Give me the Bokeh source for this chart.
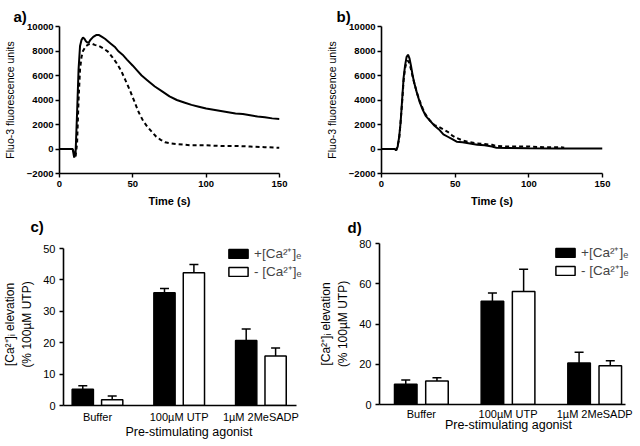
from bokeh.plotting import figure
from bokeh.models import Range1d, Legend, LegendItem, FixedTicker, Whisker, TeeHead, ColumnDataSource
from bokeh.layouts import column, row
from bokeh.embed import file_html
from bokeh.resources import INLINE

FONT = "Liberation Sans"

# ---- panel a: time courses ----
a_solid_t = [0, 5, 9, 10, 11, 12, 13, 14, 15, 16, 17, 18, 19, 20, 21, 23, 25, 27, 29, 31, 33, 35, 38, 40, 43, 46, 50,
             53, 56, 60, 65, 70, 75, 80, 85, 90, 95, 100, 105, 110, 115, 120, 125, 130, 135, 140, 145, 150]
a_solid_v = [0, 0, 0, -700, -200, 3000, 6500, 8400, 8900, 9100, 9000, 8800, 8700, 8700, 8900, 9150, 9300, 9300, 9150,
             9000, 8800, 8600, 8300, 8000, 7700, 7300, 6800, 6400, 6000, 5600, 5100, 4700, 4300, 4000, 3800, 3600,
             3450, 3300, 3200, 3100, 3000, 2900, 2850, 2750, 2650, 2600, 2500, 2450]
a_dash_t = [0, 9, 10, 11, 12, 13, 14, 15, 16, 18, 20, 22, 24, 27, 30, 33, 36, 39, 42, 45, 48, 51, 54, 57, 60, 63, 66,
            69, 72, 76, 80, 90, 100, 110, 120, 130, 140, 150]
a_dash_v = [0, 0, -300, -600, 500, 4000, 6500, 7500, 8000, 8400, 8550, 8600, 8500, 8400, 8200, 7950, 7500, 7000, 6400,
            5600, 4800, 3900, 3000, 2300, 1800, 1400, 1000, 750, 550, 450, 400, 300, 300, 250, 250, 200, 150, 100]

# ---- panel b: time courses ----
b_solid_t = [0, 9, 10, 11, 12, 13, 14, 15, 16, 17, 18, 19, 20, 21, 22, 24, 26, 28, 30, 33, 36, 39, 42, 45, 48, 51, 55,
             60, 65, 70, 75, 78, 85, 100, 120, 150]
b_solid_v = [0, 0, -100, 200, 1000, 2200, 4000, 5800, 6800, 7500, 7700, 7400, 6800, 6100, 5500, 4600, 3800, 3200, 2700,
             2300, 1900, 1600, 1200, 1000, 800, 600, 550, 450, 350, 300, 200, 100, 80, 60, 50, 50]
b_dash_t = [0, 9, 10, 12, 14, 15, 16, 17, 18, 19, 20, 22, 24, 26, 28, 30, 33, 36, 39, 42, 45, 48, 51, 55, 60, 65, 70,
            75, 78, 85, 100, 110, 122, 124]
b_dash_v = [0, 0, -100, 800, 3800, 5600, 6600, 7100, 7200, 7000, 6500, 5500, 4600, 3900, 3300, 2800, 2300, 1950, 1800,
            1600, 1400, 1100, 900, 700, 550, 450, 400, 350, 250, 200, 200, 150, 150, 100]

# ---- panels c and d: bar charts ----
categories = ["Buffer", "100\u00b5M UTP", "1\u00b5M 2MeSADP"]
c_plus = [5.2, 35.9, 20.7]
c_plus_err = [1.1, 1.4, 3.7]
c_minus = [1.8, 42.3, 15.8]
c_minus_err = [1.2, 2.6, 2.5]
d_plus = [10.1, 51.3, 20.6]
d_plus_err = [2.1, 4.1, 5.4]
d_minus = [11.7, 56.2, 19.3]
d_minus_err = [1.6, 11.0, 2.4]
legend_labels = ["+[Ca\u00b2\u207a]\u2091", "- [Ca\u00b2\u207a]\u2091"]


def style_axes(p, tick_size, tick_style):
    for ax in (p.xaxis[0], p.yaxis[0]):
        ax.axis_line_width = 1.6
        ax.major_tick_line_width = 1.4
        ax.major_tick_out = 4
        ax.major_tick_in = 0
        ax.minor_tick_line_color = None
        ax.major_label_text_font = FONT
        ax.major_label_text_font_size = tick_size
        ax.major_label_text_font_style = tick_style
        ax.major_label_text_color = "black"
        ax.axis_label_text_font = FONT
        ax.axis_label_text_color = "black"
    p.xgrid.visible = False
    p.ygrid.visible = False
    p.outline_line_color = None


def panel_title(p, text, offset, standoff):
    p.title.text = text
    p.title.align = "left"
    p.title.vertical_align = "top"
    p.title.offset = offset
    p.title.standoff = standoff
    p.title.text_font = FONT
    p.title.text_font_size = "15px"
    p.title.text_font_style = "bold"
    p.title.text_color = "black"


def trace_fig(letter, st, sv, dt, dv, width, left, right, toff):
    p = figure(width=width, height=210, x_range=Range1d(0, 150), y_range=Range1d(-2000, 10000),
               output_backend="svg", toolbar_location=None,
               min_border_left=left, min_border_right=right, min_border_top=26, min_border_bottom=37)
    style_axes(p, "9.5px", "bold")
    p.xaxis.ticker = FixedTicker(ticks=[0, 50, 100, 150])
    p.yaxis.ticker = FixedTicker(ticks=[-2000, 0, 2000, 4000, 6000, 8000, 10000])
    p.xaxis.axis_label = "Time (s)"
    p.xaxis.axis_label_text_font_style = "bold"
    p.xaxis.axis_label_text_font_size = "11px"
    p.xaxis.axis_label_standoff = 5
    p.xaxis.major_label_standoff = 3
    p.yaxis.axis_label = "Fluo-3 fluorescence units"
    p.yaxis.axis_label_text_font_style = "normal"
    p.yaxis.axis_label_text_font_size = "10.5px"
    p.yaxis.axis_label_standoff = 8
    p.yaxis.major_label_standoff = 2
    p.line(st, sv, line_color="black", line_width=2)
    p.line(dt, dv, line_color="black", line_width=2, line_dash="4 3")
    panel_title(p, letter, toff, 0)
    return p


def bar_fig(letter, plus, plus_err, minus, minus_err, ymax, ystep, yend, width, height, left, right, top, bottom,
            xstart, xaxis_end, xend, toff, tstand, leg_loc, lab_standoff, axlab_standoff):
    p = figure(width=width, height=height, x_range=Range1d(xstart, xend), y_range=Range1d(0, yend),
               output_backend="svg", toolbar_location=None,
               min_border_left=left, min_border_right=right, min_border_top=top, min_border_bottom=bottom)
    style_axes(p, "11px", "normal")
    idx = list(range(1, len(categories) + 1))
    p.xaxis.ticker = FixedTicker(ticks=idx)
    p.xaxis.bounds = (xstart, xaxis_end)
    p.xaxis.major_label_overrides = {i: c for i, c in zip(idx, categories)}
    p.xaxis.major_tick_out = 0
    p.xaxis.major_label_standoff = lab_standoff
    p.xaxis.axis_label = "Pre-stimulating agonist"
    p.xaxis.axis_label_text_font_style = "normal"
    p.xaxis.axis_label_text_font_size = "12.5px"
    p.xaxis.axis_label_standoff = axlab_standoff
    p.yaxis.ticker = FixedTicker(ticks=list(range(0, ymax + 1, ystep)))
    p.yaxis.bounds = (0, ymax)
    p.yaxis.major_label_standoff = 4
    p.yaxis.axis_label = "[Ca\u00b2\u207a]\u1d62 elevation\n(% 100\u00b5M UTP)"
    p.yaxis.axis_label_text_font_style = "normal"
    p.yaxis.axis_label_text_font_size = "12px"
    p.yaxis.axis_label_standoff = 6

    off, w = 0.18, 0.26
    xp = [i - off for i in idx]
    xm = [i + off for i in idx]
    rb = p.vbar(x=xp, top=plus, width=w, fill_color="black", line_color="black", line_width=1.5)
    rw = p.vbar(x=xm, top=minus, width=w, fill_color="white", line_color="black", line_width=1.5)
    for xs, vals, errs in ((xp, plus, plus_err), (xm, minus, minus_err)):
        src = ColumnDataSource(dict(base=xs, lower=vals, upper=[v + e for v, e in zip(vals, errs)]))
        p.add_layout(Whisker(source=src, base="base", lower="lower", upper="upper", dimension="height",
                             line_color="black", line_width=1.5, lower_head=None,
                             upper_head=TeeHead(size=9, line_color="black", line_width=1.5)))
    leg = Legend(items=[LegendItem(label=legend_labels[0], renderers=[rb]),
                        LegendItem(label=legend_labels[1], renderers=[rw])],
                 location=leg_loc, padding=0, margin=0, spacing=0, glyph_width=24, glyph_height=11,
                 label_standoff=4, label_text_font=FONT, label_text_font_size="13.5px",
                 label_height=11, border_line_alpha=0, background_fill_alpha=0)
    p.add_layout(leg)
    panel_title(p, letter, toff, tstand)
    return p


pa = trace_fig("a)", a_solid_t, a_solid_v, a_dash_t, a_dash_v, 299, 59, 20, -46)
pb = trace_fig("b)", b_solid_t, b_solid_v, b_dash_t, b_dash_v, 323, 82, 20, -45)
pc = bar_fig("c)", c_plus, c_plus_err, c_minus, c_minus_err, 50, 10, 51.6, 316, 233, 59, 2, 33, 38,
             0.584, 3.44, 3.656, -33, 14, (163, 125), 5, -1)
pd = bar_fig("d)", d_plus, d_plus_err, d_minus, d_minus_err, 80, 20, 80, 324, 232, 62, 3, 31, 33,
             0.517, 3.356, 3.494, -32, 12, (174, 125), 3, -5)

layout = column(row(pa, pb), row(pc, pd))
open("out.html", "w").write(file_html(layout, INLINE))
